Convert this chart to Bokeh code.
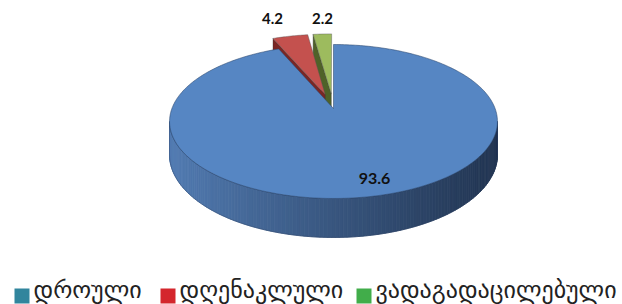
import numpy as np
from bokeh.plotting import figure
from bokeh.models import Range1d
from bokeh.core.properties import value
from bokeh.embed import file_html
from bokeh.resources import INLINE

# ---- data ----
categories = ["დროული", "დღენაკლული", "ვადაგადაცილებული"]
values = [93.6, 4.2, 2.2]
labels = ["93.6", "4.2", "2.2"]
explode = [0.0, 0.2, 0.2]

# ---- styles ----
top_colors = ["#5686c3", "#c4514e", "#9dbb5e"]
face_colors = ["#3b5f8e", "#7b2624", "#4f6228"]
legend_colors = ["#31859d", "#d4262d", "#41ad4a"]
side_left = np.array([0x52, 0x7c, 0xb3])
side_right = np.array([0x22, 0x35, 0x52])

W, H = 622, 304
p = figure(width=W, height=H, output_backend="svg", toolbar_location=None,
           x_range=Range1d(0, W), y_range=Range1d(H, 0),
           min_border=0, outline_line_color=None)
p.axis.visible = False
p.grid.visible = False
p.background_fill_color = "white"
p.border_fill_color = "white"

# projection of a tilted disc (perspective)
cx, cy = 333.0, 108.0
k = 0.1688
A, B, Hh = 161.6, 74.8, 32.4


def proj(X, Y, z=0.0):
    X = np.asarray(X, float)
    Y = np.asarray(Y, float)
    w = 1 + k * Y
    return cx + A * X / w, cy + (-B * Y + Hh * z) / w


total = sum(values)
bounds = []
cum = 0.0
for v in values:
    a0 = 90 - cum / total * 360
    cum += v
    a1 = 90 - cum / total * 360
    bounds.append((a0, a1))


def hexcol(c):
    return "#%02x%02x%02x" % tuple(int(round(t)) for t in c)


# exploded wedges (drawn first: green, then red)
for i in [2, 1]:
    a0, a1 = bounds[i]
    m = np.radians((a0 + a1) / 2)
    ox, oy = explode[i] * np.cos(m), explode[i] * np.sin(m)
    th = np.radians(np.linspace(a0, a1, 20))
    e_ang = np.radians(a1 % 360 if (a1 % 360) > (a0 % 360) else a0 % 360)
    X = np.array([ox, ox + np.cos(e_ang), ox + np.cos(e_ang), ox])
    Y = np.array([oy, oy + np.sin(e_ang), oy + np.sin(e_ang), oy])
    Z = np.array([0, 0, 1, 1])
    fx, fy = proj(X, Y, Z)
    p.patch(list(fx), list(fy), fill_color=face_colors[i], line_color="#333333",
            line_width=0.6, line_alpha=0.6)
    tx = np.concatenate([[ox], ox + np.cos(th)])
    ty = np.concatenate([[oy], oy + np.sin(th)])
    px_, py_ = proj(tx, ty)
    p.patch(list(px_), list(py_), fill_color=top_colors[i], line_color="#555555",
            line_width=0.6, line_alpha=0.7)

# blue slice side (front, gradient)
phl = 180 + np.degrees(np.arcsin(k))
phr = 360 - np.degrees(np.arcsin(k))
ph = np.radians(np.linspace(phl, phr, 140))
xs, ys, cols = [], [], []
xt, yt = proj(np.cos(ph), np.sin(ph), 0)
xb, yb = proj(np.cos(ph), np.sin(ph), 1)
xmin, xmax = xt.min(), xt.max()
for j in range(len(ph) - 1):
    xs.append([xt[j], xt[j + 1], xb[j + 1], xb[j]])
    ys.append([yt[j], yt[j + 1], yb[j + 1], yb[j]])
    t = ((xt[j] + xt[j + 1]) / 2 - xmin) / (xmax - xmin)
    cols.append(hexcol(side_left + (side_right - side_left) * t ** 0.9))
p.patches(xs, ys, fill_color=cols, line_color=cols, line_width=0.8)
ox_, oy_ = list(xt) + list(xb[::-1]), list(yt) + list(yb[::-1])
p.patch(ox_, oy_, fill_color=None, line_color="#2a3f5e", line_width=0.6, line_alpha=0.6)

# blue top face
a0, a1 = bounds[0]
th = np.radians(np.linspace(a0, a1, 300))
tx = np.concatenate([[0], np.cos(th)])
ty = np.concatenate([[0], np.sin(th)])
bx, by = proj(tx, ty)
p.patch(list(bx), list(by), fill_color=top_colors[0], line_color="#2e4a70",
        line_width=0.7, line_alpha=0.8)

# data labels
label_x = [374, 272, 322]
label_y = [178, 18, 18]
label_size = ["16px", "15px", "15px"]
for i in range(3):
    p.text(x=[label_x[i]], y=[label_y[i]], text=[labels[i]], text_font=value("Lato"),
           text_font_style="bold", text_font_size=label_size[i], text_color="#111111",
           text_align="center", text_baseline="middle")

# legend
leg_x = [14, 160, 356]
for i in range(3):
    p.quad(left=[leg_x[i]], right=[leg_x[i] + 15], top=[288], bottom=[303],
           fill_color=legend_colors[i], line_color=None)
    p.text(x=[leg_x[i] + 19], y=[303], text=[categories[i]], text_font=value("DejaVu Sans"),
           text_font_size="24px", text_color="#222222", text_align="left",
           text_baseline="bottom")

open("out.html", "w").write(file_html(p, INLINE))
